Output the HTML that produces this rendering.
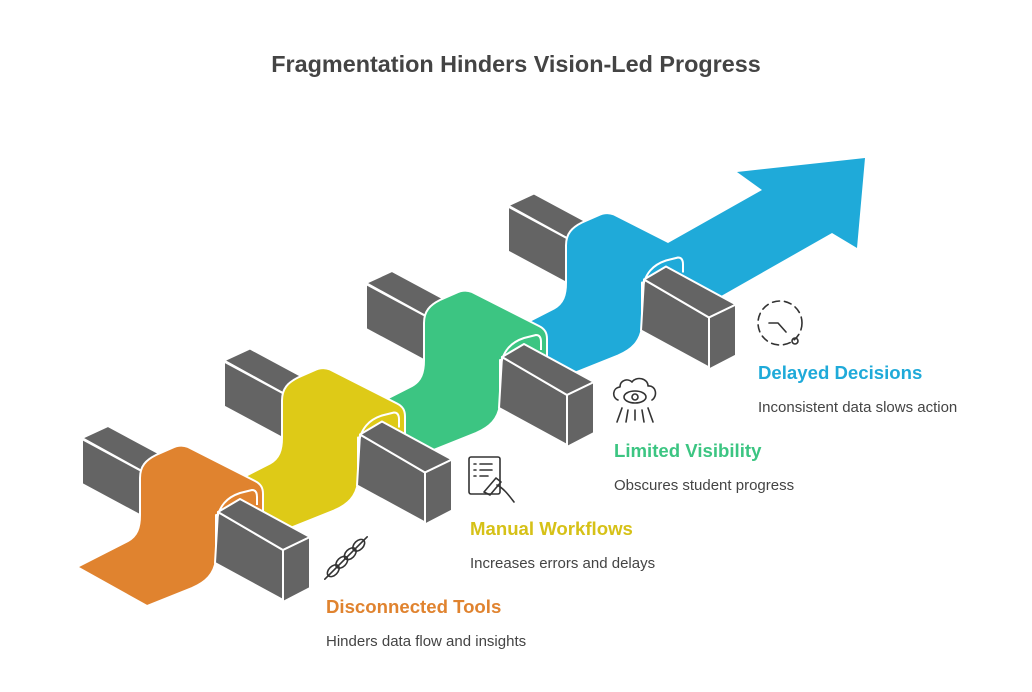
<!DOCTYPE html>
<html><head><meta charset="utf-8"><style>
html,body{margin:0;padding:0;background:#fff;}
body{width:1032px;height:692px;position:relative;overflow:hidden;font-family:"Liberation Sans",sans-serif;}
.t{position:absolute;font-weight:bold;font-size:18.6px;white-space:nowrap;}
.d{position:absolute;font-size:15px;color:#444;white-space:nowrap;}
</style></head><body>
<div style="position:absolute;left:0;width:1032px;top:51px;text-align:center;font-size:23.4px;font-weight:bold;color:#444;">Fragmentation Hinders Vision-Led Progress</div>
<svg width="1032" height="692" style="position:absolute;left:0;top:0" stroke-linejoin="round">
<defs>
<g id="lb">
<polygon points="82,438 108,426 175,462 149,475" fill="#646464" stroke="#fff" stroke-width="2"/>
<polygon points="82,439 149,475 149,520 82,484" fill="#646464" stroke="#fff" stroke-width="2"/>
</g>
<g id="fb">
<polygon points="218,512 283,550 283,600 215,563" fill="#646464" stroke="#fff" stroke-width="2"/>
<polygon points="218,512 240,499 310,537 283,550" fill="#646464" stroke="#fff" stroke-width="2"/>
<polygon points="283,550 310,537 310,588 283,602" fill="#646464" stroke="#fff" stroke-width="2"/>
<path d="M216,525 C218,505 228,497 240,493 L252,490 C256,490 257,493 257,497 L257,505" fill="none" stroke="#fff" stroke-width="2"/>
</g>
<path id="rb" d="M77,567 L128,541 C137,536 140,528 140,515 L140,478 C140,466 146,460 156,455 L172,448 C178,445 183,445 188,447 L255,481 C261,484 263,488 263,494 L263,515 L216,515 L216,560 C214,574 206,582 192,588 L147,606 Z" stroke="#fff" stroke-width="2"/>
</defs>
<g transform="translate(426,-232.5)"><use href="#lb"/><use href="#rb" fill="#1FAAD9"/></g>
<polygon points="668,243 762,190 737,172 865,158 857,248 832,233 700,308 684,300 684,262" fill="#1FAAD9"/>
<g transform="translate(426,-232.5)"><use href="#fb"/></g>
<g transform="translate(284,-155)"><use href="#lb"/><use href="#rb" fill="#3CC582"/><use href="#fb"/></g>
<g transform="translate(142,-77.5)"><use href="#lb"/><use href="#rb" fill="#DECA17"/><use href="#fb"/></g>
<g><use href="#lb"/><use href="#rb" fill="#E0832F"/><use href="#fb"/></g>
<g fill="none" stroke="#333" stroke-width="1.6" stroke-linecap="round">
<g transform="translate(346,558) rotate(-45)">
<ellipse cx="-18" cy="0" rx="7" ry="4.5"/><ellipse cx="-6" cy="0" rx="7" ry="4.5"/><ellipse cx="6" cy="0" rx="7" ry="4.5"/><ellipse cx="18" cy="0" rx="7" ry="4.5"/>
<line x1="-30" y1="0" x2="30" y2="0"/>
</g>
<rect x="469" y="457" width="31" height="37" rx="2"/>
<line x1="474" y1="464" x2="476" y2="464"/><line x1="480" y1="464" x2="492" y2="464"/>
<line x1="474" y1="470" x2="476" y2="470"/><line x1="480" y1="470" x2="492" y2="470"/>
<line x1="474" y1="476" x2="476" y2="476"/><line x1="480" y1="476" x2="488" y2="476"/>
<path d="M484,492 L496,478 L501,482 L490,495 Z M497,485 C503,488 508,494 514,502"/>
<path d="M618,400 C612,398 612,388 620,387 C620,380 628,378 632,382 C636,376 648,378 648,386 C656,385 658,396 652,400"/>
<ellipse cx="635" cy="397" rx="11" ry="6"/><circle cx="635" cy="397" r="3"/>
<line x1="622" y1="408" x2="617" y2="422"/><line x1="628" y1="410" x2="626" y2="422"/><line x1="635" y1="410" x2="635" y2="420"/><line x1="642" y1="410" x2="644" y2="422"/><line x1="648" y1="408" x2="653" y2="422"/>
<circle cx="780" cy="323" r="22" stroke-dasharray="7 5"/>
<path d="M769,323 L778,323 L786,332"/><circle cx="795" cy="341" r="3"/>
</g>
</svg>
<div class="t" style="left:326px;top:596px;color:#E0832F">Disconnected Tools</div>
<div class="d" style="left:326px;top:633px">Hinders data flow and insights</div>
<div class="t" style="left:470px;top:518px;color:#D6C117">Manual Workflows</div>
<div class="d" style="left:470px;top:555px">Increases errors and delays</div>
<div class="t" style="left:614px;top:440px;color:#3CC582">Limited Visibility</div>
<div class="d" style="left:614px;top:477px">Obscures student progress</div>
<div class="t" style="left:758px;top:362px;color:#1FAAD9">Delayed Decisions</div>
<div class="d" style="left:758px;top:399px">Inconsistent data slows action</div>
</body></html>
